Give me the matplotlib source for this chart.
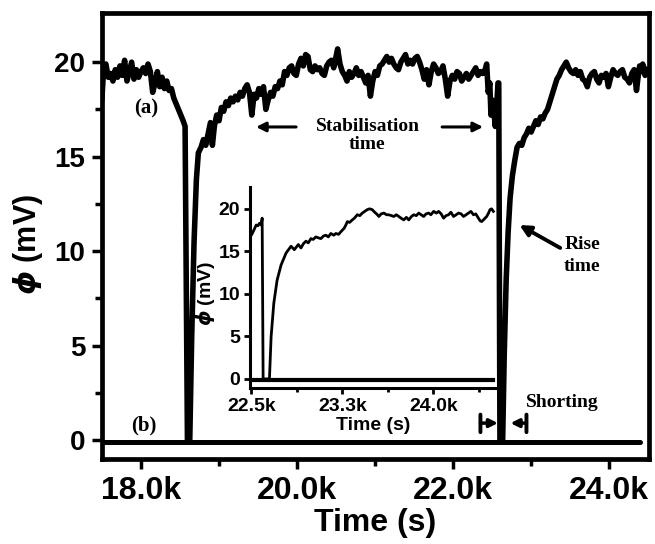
import matplotlib
matplotlib.use("Agg")
import matplotlib.pyplot as plt
from matplotlib.ticker import FixedLocator

plt.rcParams["mathtext.fontset"] = "custom"
plt.rcParams["mathtext.it"] = "DejaVu Sans:italic:bold"
plt.rcParams["mathtext.rm"] = "Liberation Sans:bold"

# ---------------- data ----------------
# curve (a): potential with electrodes open, main panel
time_a = [17500, 17520, 17550, 17580, 17610, 17640, 17670, 17700, 17730, 17760,
          17790, 17820, 17850, 17880, 17910, 17940, 17970, 18000, 18030, 18060,
          18090, 18120, 18150, 18180, 18210, 18240, 18270, 18300, 18330, 18360,
          18390, 18420, 18450, 18480, 18510, 18540, 18565, 18595, 18625, 18650,
          18680, 18710, 18735, 18770, 18800, 18830, 18860, 18890, 18915, 18940,
          18970, 19000, 19030, 19060, 19090, 19120, 19150, 19180, 19210, 19240,
          19270, 19300, 19330, 19360, 19390, 19420, 19450, 19480, 19510, 19540,
          19570, 19600, 19630, 19660, 19690, 19720, 19750, 19780, 19810, 19840,
          19870, 19900, 19930, 19960, 19990, 20020, 20050, 20080, 20110, 20140,
          20170, 20200, 20230, 20260, 20290, 20320, 20350, 20380, 20410, 20440,
          20470, 20500, 20520, 20550, 20580, 20610, 20640, 20670, 20700, 20730,
          20760, 20790, 20820, 20850, 20880, 20910, 20940, 20970, 21000, 21030,
          21060, 21090, 21120, 21150, 21180, 21210, 21240, 21270, 21300, 21330,
          21360, 21390, 21420, 21450, 21480, 21510, 21540, 21570, 21600, 21630,
          21660, 21690, 21720, 21750, 21780, 21810, 21840, 21870, 21900, 21930,
          21960, 21990, 22020, 22050, 22080, 22110, 22140, 22170, 22200, 22230,
          22260, 22290, 22320, 22350, 22380, 22410, 22430, 22450, 22470, 22485,
          22500, 22520, 22540, 22560, 22575, 22585, 22600, 22635, 22655, 22680,
          22705, 22730, 22760, 22790, 22820, 22850, 22880, 22910, 22940, 22970,
          23000, 23030, 23060, 23090, 23120, 23150, 23180, 23210, 23240, 23270,
          23300, 23330, 23360, 23390, 23420, 23450, 23480, 23510, 23540, 23570,
          23600, 23630, 23660, 23690, 23720, 23750, 23780, 23810, 23840, 23870,
          23900, 23930, 23960, 23990, 24020, 24050, 24080, 24110, 24140, 24170,
          24200, 24230, 24260, 24290, 24320, 24350, 24370, 24390, 24410, 24430,
          24460, 24490]
phi_a = [18.1, 19.6, 19.9, 19.2, 19.4, 19.0, 19.6, 19.2, 19.8, 19.3,
         20.1, 19.0, 19.5, 20.0, 19.1, 19.6, 19.2, 19.5, 19.7, 19.4,
         19.9, 19.5, 18.4, 18.9, 19.5, 18.7, 19.2, 18.6, 19.0, 18.5,
         18.6, 18.1, 17.8, 17.5, 17.2, 16.9, 16.6, 0.0, 0.0, 5.5,
         10.5, 13.8, 15.2, 15.5, 15.9, 15.6, 16.2, 16.8, 15.6, 16.6,
         17.2, 16.9, 17.6, 17.4, 17.9, 17.7, 18.1, 17.9, 18.2, 18.0,
         18.4, 18.2, 18.6, 18.8, 18.4, 17.2, 18.3, 18.1, 18.6, 18.3,
         18.7, 17.5, 18.0, 18.4, 18.2, 18.7, 18.6, 19.0, 18.8, 19.5,
         19.3, 19.7, 19.8, 19.4, 19.3, 19.9, 20.2, 19.8, 20.4, 20.3,
         19.6, 19.5, 19.8, 19.6, 19.7, 19.4, 19.3, 19.8, 20.0, 20.1,
         19.7, 20.3, 20.7, 19.9, 19.5, 19.3, 19.0, 19.5, 19.2, 19.4,
         19.7, 19.3, 19.5, 19.2, 18.9, 19.3, 18.2, 19.0, 19.5, 19.3,
         19.8, 19.9, 20.1, 20.3, 20.0, 20.2, 19.9, 19.7, 19.6, 20.0,
         20.2, 20.4, 19.9, 20.1, 19.9, 20.2, 20.3, 20.0, 19.6, 19.1,
         19.6, 18.8, 19.5, 19.9, 19.7, 19.4, 19.5, 19.8, 19.1, 18.2,
         19.0, 19.3, 19.1, 19.5, 19.4, 19.0, 19.2, 19.4, 19.1, 19.3,
         19.5, 19.7, 19.3, 19.5, 19.4, 19.6, 19.9, 18.4, 18.9, 17.2,
         18.0, 17.5, 16.6, 17.8, 18.9, 18.9, 0.0, 0.0, 4.5, 8.5,
         11.0, 12.8, 14.0, 14.8, 15.5, 15.7, 15.6, 16.0, 16.2, 16.5,
         16.3, 16.6, 16.9, 16.7, 17.1, 17.0, 17.3, 17.5, 17.9, 18.3,
         18.7, 19.1, 19.3, 19.6, 19.8, 20.0, 19.7, 19.5, 19.4, 19.6,
         19.3, 19.5, 19.1, 19.0, 18.7, 19.2, 19.4, 19.5, 19.1, 18.9,
         19.3, 19.2, 19.4, 18.7, 19.2, 19.6, 19.4, 19.3, 19.5, 19.6,
         19.2, 19.1, 18.9, 19.4, 19.6, 18.5, 19.2, 19.8, 19.5, 19.9,
         19.3, 19.6]

# curve (b): shorted electrodes
time_b = [17500, 24400]
phi_b = [-0.1, -0.1]

# inset: zoom of the second shorting event
time_in = [22490, 22505, 22522, 22541, 22555, 22568, 22582, 22590, 22598, 22650,
           22664, 22686, 22713, 22746, 22787, 22828, 22855, 22888, 22910, 22930,
           22951, 22970, 22992, 23010, 23033, 23050, 23074, 23095, 23115, 23135,
           23156, 23180, 23197, 23220, 23238, 23265, 23280, 23292, 23310, 23333,
           23350, 23374, 23395, 23415, 23435, 23456, 23475, 23497, 23510, 23525,
           23540, 23552, 23570, 23593, 23615, 23634, 23655, 23675, 23695, 23716,
           23735, 23757, 23778, 23798, 23820, 23839, 23860, 23880, 23900, 23921,
           23940, 23962, 23980, 24003, 24025, 24044, 24065, 24085, 24105, 24126,
           24145, 24167, 24188, 24208, 24230, 24249, 24270, 24290, 24310, 24331,
           24350, 24372, 24385, 24399, 24420, 24440, 24455, 24467, 24480, 24495]
phi_in = [16.7, 17.0, 17.5, 18.1, 18.0, 18.3, 18.1, 18.9, 0.0, 0.0,
          5.0, 8.9, 11.6, 13.4, 14.8, 15.6, 15.2, 15.8, 15.4, 15.9,
          16.2, 16.0, 16.5, 16.4, 16.7, 16.6, 16.5, 16.8, 16.9, 16.7,
          17.1, 16.9, 17.1, 17.0, 17.3, 17.7, 18.1, 18.5, 18.4, 18.7,
          18.9, 19.3, 19.2, 19.5, 19.7, 19.9, 20.0, 19.9, 19.7, 19.5,
          19.3, 19.1, 19.4, 19.5, 19.3, 19.3, 19.2, 19.1, 19.3, 19.1,
          18.9, 18.7, 19.0, 18.7, 19.1, 19.3, 19.2, 19.5, 19.3, 19.1,
          19.4, 19.5, 19.3, 19.7, 19.5, 19.7, 19.4, 18.9, 19.2, 19.3,
          19.6, 19.1, 19.3, 19.5, 19.4, 19.1, 19.3, 19.5, 19.7, 19.3,
          19.4, 18.9, 18.6, 18.5, 18.8, 19.1, 19.5, 19.9, 20.0, 19.7]
time_in_b = [22490, 24490]
phi_in_b = [-0.1, -0.1]

main_xticks = [18000, 20000, 22000, 24000]
main_xticklabels = ["18.0k", "20.0k", "22.0k", "24.0k"]
main_yticks = [0, 5, 10, 15, 20]
inset_xticks = [22500, 23250, 24000]
inset_xticklabels = ["22.5k", "23.3k", "24.0k"]
inset_yticks = [0, 5, 10, 15, 20]

# ---------------- figure ----------------
SANS = "Liberation Sans"
SERIF = "Liberation Serif"

fig = plt.figure(figsize=(6.55, 5.44), dpi=100)
ax = fig.add_axes([0.1557, 0.1562, 0.8351, 0.8199])

ax.plot(time_b, phi_b, color="black", lw=3.6, solid_capstyle="round", zorder=2)
ax.plot(time_a, phi_a, color="black", lw=4.0, solid_joinstyle="round", zorder=3)

ax.set_xlim(17500, 24510)
ax.set_ylim(-1.0, 22.6)
for s in ax.spines.values():
    s.set_linewidth(3.4)

ax.xaxis.set_major_locator(FixedLocator(main_xticks))
ax.set_xticklabels(main_xticklabels)
ax.xaxis.set_minor_locator(FixedLocator([19000, 21000, 23000]))
ax.yaxis.set_major_locator(FixedLocator(main_yticks))
ax.yaxis.set_minor_locator(FixedLocator([2.5, 7.5, 12.5, 17.5]))
ax.tick_params(which="major", direction="out", length=7, width=2.5, pad=5)
ax.tick_params(which="minor", direction="out", length=5, width=2.5)
ax.tick_params(top=False, right=False, which="both")
for lab in ax.get_xticklabels():
    lab.set_fontfamily(SANS); lab.set_fontweight("bold"); lab.set_fontsize(23)
for lab in ax.get_yticklabels():
    lab.set_fontfamily(SANS); lab.set_fontweight("bold"); lab.set_fontsize(20)

ax.set_xlabel("Time (s)", fontfamily=SANS, fontweight="bold", fontsize=23)
ax.xaxis.set_label_coords(0.5, -0.110)
ax.set_ylabel(r"$\phi$ (mV)", fontfamily=SANS, fontweight="bold", fontsize=22)
ax.yaxis.set_label_coords(-0.105, 0.48)

# annotations
tkw = dict(fontfamily=SERIF, fontweight="bold", color="black")
ax.text(18064, 17.57, "(a)", ha="center", va="center", fontsize=15, **tkw)
ax.text(18040, 0.75, "(b)", ha="center", va="center", fontsize=15, **tkw)
ax.text(20910, 16.62, "Stabilisation", ha="center", va="center", fontsize=14, **tkw)
ax.text(20900, 15.62, "time", ha="center", va="center", fontsize=14, **tkw)
ax.text(23654, 10.33, "Rise", ha="center", va="center", fontsize=14, **tkw)
ax.text(23654, 9.21, "time", ha="center", va="center", fontsize=14, **tkw)
ax.text(23400, 1.97, "Shorting", ha="center", va="center", fontsize=14, **tkw)

akw = dict(arrowstyle="-|>", color="black", lw=2.2, mutation_scale=14,
           shrinkA=0, shrinkB=0)
ax.annotate("", xy=(19474, 16.57), xytext=(19987, 16.57), arrowprops=akw)
ax.annotate("", xy=(22384, 16.57), xytext=(21859, 16.57), arrowprops=akw)
ax.annotate("", xy=(22850, 11.38), xytext=(23372, 10.17),
            arrowprops=dict(akw, lw=2.8, mutation_scale=16))
# shorting bracket
bkw = dict(arrowstyle="-", color="black", lw=2.8, shrinkA=0, shrinkB=0)
ax.annotate("", xy=(22350, 1.35), xytext=(22350, 0.42), arrowprops=bkw)
ax.annotate("", xy=(22940, 1.35), xytext=(22940, 0.42), arrowprops=bkw)
skw = dict(arrowstyle="-|>", color="black", lw=2.5, mutation_scale=12,
           shrinkA=0, shrinkB=0)
ax.annotate("", xy=(22575, 0.9), xytext=(22350, 0.9), arrowprops=skw)
ax.annotate("", xy=(22735, 0.9), xytext=(22940, 0.9), arrowprops=skw)

# ---------------- inset ----------------
ax2 = fig.add_axes([0.3817, 0.2862, 0.3771, 0.3706])
ax2.patch.set_alpha(0)
ax2.plot(time_in_b, phi_in_b, color="black", lw=3.0, zorder=2)
ax2.plot(time_in, phi_in, color="black", lw=2.0, solid_joinstyle="round", zorder=3)
ax2.set_xlim(22490, 24525)
ax2.set_ylim(-1.1, 22.6)
ax2.spines["top"].set_visible(False)
ax2.spines["right"].set_visible(False)
ax2.spines["left"].set_linewidth(2.2)
ax2.spines["bottom"].set_linewidth(2.2)
ax2.xaxis.set_major_locator(FixedLocator(inset_xticks))
ax2.set_xticklabels(inset_xticklabels)
ax2.xaxis.set_minor_locator(FixedLocator([22875, 23625, 24375]))
ax2.yaxis.set_major_locator(FixedLocator(inset_yticks))
ax2.tick_params(which="major", direction="out", length=4, width=2, pad=3)
ax2.tick_params(which="minor", direction="out", length=3, width=2)
for lab in ax2.get_xticklabels() + ax2.get_yticklabels():
    lab.set_fontfamily(SANS); lab.set_fontweight("bold"); lab.set_fontsize(14)
ax2.set_xlabel("Time (s)", fontfamily=SANS, fontweight="bold", fontsize=14)
ax2.xaxis.set_label_coords(0.5, -0.14)
ax2.set_ylabel(r"$\phi$ (mV)", fontfamily=SANS, fontweight="bold", fontsize=14)
ax2.yaxis.set_label_coords(-0.134, 0.47)

fig.savefig("out.png", dpi=100)
